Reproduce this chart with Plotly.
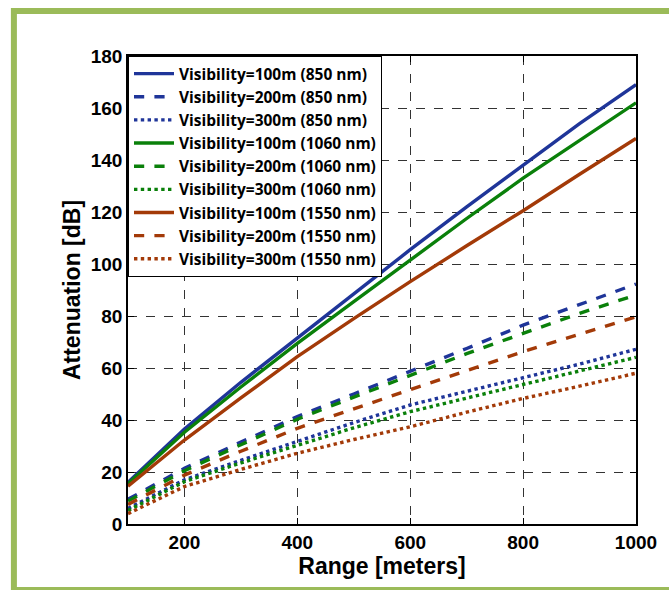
import plotly.graph_objects as go

range_m = [100, 200, 300, 400, 500, 600, 700, 800, 900, 1000]

att_850_v100 = [16, 36.5, 54.5, 71.5, 88.5, 105.5, 122, 138, 154, 169]
att_850_v200 = [9.5, 21.4, 31.5, 41.3, 50, 58.6, 67.5, 76.5, 84.5, 92.3]
att_850_v300 = [6, 17, 24.5, 31.7, 39, 45.8, 51, 56, 61.5, 67.2]
att_1060_v100 = [15.5, 35.3, 52.7, 69.5, 85.5, 101.5, 117.5, 133, 147.5, 162]
att_1060_v200 = [8.8, 20.5, 30.5, 40.3, 48.8, 57.3, 65.5, 73.3, 81, 88.1]
att_1060_v300 = [5.2, 16.3, 23.5, 30.4, 37, 43.2, 48.5, 53.5, 59, 64.1]
att_1550_v100 = [14.5, 32.3, 48.5, 64.4, 79, 93.2, 107, 120.5, 134.5, 148.3]
att_1550_v200 = [7.5, 18.8, 28, 36.8, 44.3, 51.5, 59, 66.3, 73, 79.7]
att_1550_v300 = [4, 14.4, 21, 27.2, 32.5, 37.4, 43, 48.3, 53, 58]

names = [
    "Visibility=100m (850 nm)", "Visibility=200m (850 nm)", "Visibility=300m (850 nm)",
    "Visibility=100m (1060 nm)", "Visibility=200m (1060 nm)", "Visibility=300m (1060 nm)",
    "Visibility=100m (1550 nm)", "Visibility=200m (1550 nm)", "Visibility=300m (1550 nm)",
]
series = [att_850_v100, att_850_v200, att_850_v300,
          att_1060_v100, att_1060_v200, att_1060_v300,
          att_1550_v100, att_1550_v200, att_1550_v300]
colors = ["#1F3599"] * 3 + ["#0A800A"] * 3 + ["#A33A08"] * 3
dashes = ["solid", "dash", "dot"] * 3

fig = go.Figure()
for i, (n, s, c, d) in enumerate(zip(names, series, colors, dashes)):
    fig.add_trace(go.Scatter(
        x=range_m, y=s, mode="lines", name=n,
        line=dict(color=c, width=3.4, dash=d),
        legendgroup=f"g{i}",
    ))

W, H = 669, 590
L, R, T, B = 128, 29, 56, 66
pw, ph = W - L - R, H - T - B

def px(xp):
    return (xp - L) / pw

def py(yp):
    return (H - B - yp) / ph

frame_color = "#9BBB59"
fig.add_shape(type="rect", xref="paper", yref="paper",
              x0=px(13), x1=px(700), y0=py(11), y1=py(590),
              line=dict(color=frame_color, width=6), fillcolor="rgba(0,0,0,0)",
              layer="below")

axis_common = dict(
    showline=True, linecolor="black", linewidth=1.5, mirror="allticks",
    ticks="inside", ticklen=6, tickcolor="black", tickwidth=1,
    showgrid=True, gridcolor="#333333", griddash="dash", gridwidth=1,
    zeroline=False,
    tickfont=dict(family="Liberation Sans, Arial", size=19, color="black", weight="bold"),
)

title_font = dict(family="Liberation Sans, Arial", size=23, color="black", weight="bold")

fig.update_layout(
    width=W, height=H,
    margin=dict(l=L, r=R, t=T, b=B),
    paper_bgcolor="white", plot_bgcolor="white",
    xaxis=dict(range=[100, 1000], tickvals=[200, 400, 600, 800, 1000],
               title=dict(text="Range [meters]", standoff=4, font=title_font),
               **axis_common),
    yaxis=dict(range=[0, 180], tickvals=list(range(0, 181, 20)),
               title=dict(text="Attenuation [dB]", standoff=4, font=title_font),
               **axis_common),
    legend=dict(x=0, y=1, xanchor="left", yanchor="top",
                bgcolor="white", bordercolor="black", borderwidth=1,
                font=dict(family="Open Sans", size=15.5, color="black", weight="bold"),
                traceorder="grouped", tracegroupgap=0,
                itemwidth=40),
    showlegend=True,
)

fig.write_html("out.html")
